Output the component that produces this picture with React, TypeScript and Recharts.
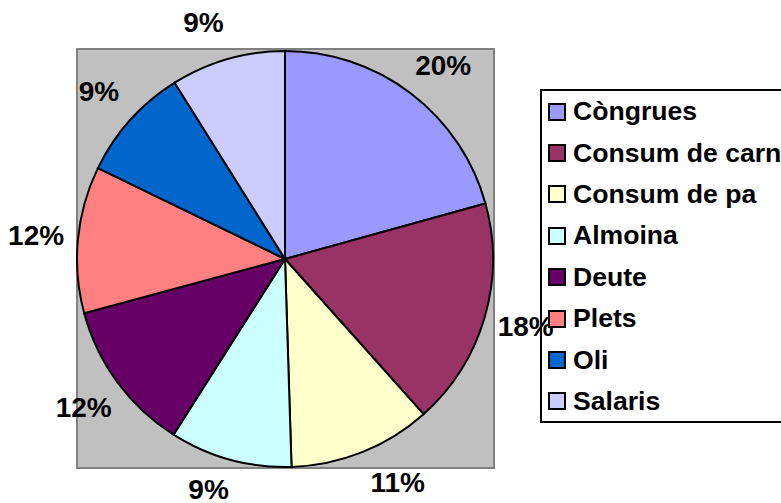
import React from 'react';
import { PieChart, Pie, Cell, Legend } from 'recharts';

const categories = ['Còngrues', 'Consum de carn', 'Consum de pa', 'Almoina', 'Deute', 'Plets', 'Oli', 'Salaris'];
const values = [20.7, 17.7, 11.1, 9.5, 11.8, 11.4, 8.9, 8.9];
const percentLabels = ['20%', '18%', '11%', '9%', '12%', '12%', '9%', '9%'];
const colors = ['#9999FF', '#993366', '#FFFFCC', '#CCFFFF', '#660066', '#FF8080', '#0066CC', '#CCCCFF'];

// small label angle nudges (degrees, counter-clockwise positive) to avoid crowding at chart edges
const labelNudge = [-2, 0.7, 5, -2.5, 0, 0, 0, 3];

const data = categories.map((name, i) => ({ name, value: values[i] }));

const FONT = '"Liberation Sans", Arial, Helvetica, sans-serif';
const RAD = Math.PI / 180;
const CHART_H = 503;

const renderLabel = (props: any) => {
  const { cx, cy, midAngle, index } = props;
  const r = 250;
  const a = midAngle + labelNudge[index];
  const x = cx + r * Math.cos(-a * RAD);
  let y = cy + r * Math.sin(-a * RAD);
  if (y > CHART_H - 14) y = CHART_H - 14;
  return (
    <text
      x={x}
      y={y}
      textAnchor="middle"
      dominantBaseline="central"
      fill="#000"
      fontFamily={FONT}
      fontWeight="bold"
      fontSize={28}
    >
      {percentLabels[index]}
    </text>
  );
};

const LegendContent = () => (
  <div
    style={{
      boxSizing: 'border-box',
      width: 260,
      height: 334,
      border: '2px solid #000',
      fontFamily: FONT,
      fontWeight: 'bold',
      fontSize: 26.6,
      color: '#000',
    }}
  >
    {categories.map((c, i) => (
      <div key={c} style={{ height: 41.4, display: 'flex', alignItems: 'center', whiteSpace: 'nowrap' }}>
        <span
          style={{
            boxSizing: 'border-box',
            display: 'inline-block',
            width: 18,
            height: 18,
            marginLeft: 6,
            marginRight: 7,
            background: colors[i],
            border: '2px solid #000',
            flexShrink: 0,
          }}
        />
        <span>{c}</span>
      </div>
    ))}
  </div>
);

export default function App() {
  return (
    <div style={{ position: 'absolute', left: 0, top: 0, width: 781, height: 503, overflow: 'hidden', background: '#fff' }}>
      <div
        style={{
          position: 'absolute',
          left: 76,
          top: 48,
          width: 419,
          height: 421,
          boxSizing: 'border-box',
          background: '#C0C0C0',
          border: '2px solid #808080',
        }}
      />
      <div style={{ position: 'absolute', left: 0, top: 0 }}>
        <PieChart width={781} height={503} margin={{ top: 0, right: 0, bottom: 0, left: 0 }}>
          <Pie
            data={data}
            dataKey="value"
            nameKey="name"
            cx={285}
            cy={259}
            outerRadius={208}
            startAngle={90}
            endAngle={-270}
            stroke="#000"
            strokeWidth={2}
            label={renderLabel}
            labelLine={false}
            isAnimationActive={false}
          >
            {data.map((d, i) => (
              <Cell key={d.name} fill={colors[i]} />
            ))}
          </Pie>
          <Legend
            layout="vertical"
            align="right"
            verticalAlign="top"
            content={<LegendContent />}
            wrapperStyle={{ left: 540, top: 89, width: 260, right: 'auto' }}
          />
        </PieChart>
      </div>
    </div>
  );
}
